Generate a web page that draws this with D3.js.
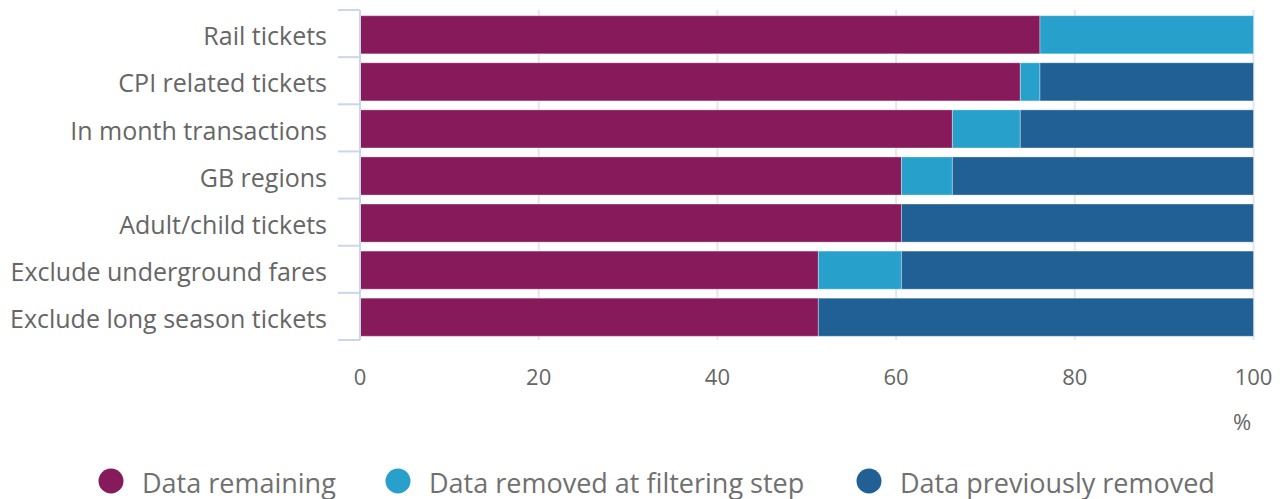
<!DOCTYPE html>
<html>
<head>
<meta charset="utf-8">
<script src="https://cdn.jsdelivr.net/npm/d3@7"></script>
<style>
  html, body { margin: 0; padding: 0; background: #fff; }
  svg { display: block; font-family: "Open Sans", sans-serif; }
</style>
</head>
<body>
<svg id="chart" width="1282" height="499"></svg>
<script>
const categories = [
  "Rail tickets",
  "CPI related tickets",
  "In month transactions",
  "GB regions",
  "Adult/child tickets",
  "Exclude underground fares",
  "Exclude long season tickets"
];
const dataRemaining = [76.1, 73.9, 66.3, 60.6, 60.6, 51.3, 51.3];
const dataRemovedAtStep = [23.9, 2.2, 7.6, 5.7, 0, 9.3, 0];
const dataPreviouslyRemoved = [0, 23.9, 26.1, 33.7, 39.4, 39.4, 48.7];
const seriesNames = ["Data remaining", "Data removed at filtering step", "Data previously removed"];
const seriesColors = ["#871A5B", "#27A0CC", "#206095"];
const xTicks = [0, 20, 40, 60, 80, 100];
const unitLabel = "%";

const svg = d3.select("#chart");
const margin = { left: 360, right: 28.5, top: 10, bottom: 159 };
const W = 1282, H = 499;

const x = d3.scaleLinear().domain([0, 100]).range([margin.left, W - margin.right]);
const y = d3.scaleBand().domain(categories).range([margin.top, H - margin.bottom])
  .paddingInner(0.19).paddingOuter(0.1);

// gridlines
svg.append("g").selectAll("line").data(xTicks).join("line")
  .attr("x1", d => x(d)).attr("x2", d => x(d))
  .attr("y1", margin.top).attr("y2", H - margin.bottom)
  .attr("stroke", "#e6e6e6").attr("stroke-width", 2);

// stacked bars
const rows = categories.map((c, i) => ({
  cat: c, vals: [dataRemaining[i], dataRemovedAtStep[i], dataPreviouslyRemoved[i]]
}));
const segs = [];
rows.forEach(r => {
  let acc = 0;
  r.vals.forEach((v, k) => {
    if (v > 0) segs.push({ cat: r.cat, x0: acc, x1: acc + v, k });
    acc += v;
  });
});
svg.append("g").selectAll("rect").data(segs).join("rect")
  .attr("x", d => x(d.x0))
  .attr("width", d => x(d.x1) - x(d.x0))
  .attr("y", d => y(d.cat) + 1)
  .attr("height", y.bandwidth())
  .attr("fill", d => seriesColors[d.k])
  .attr("stroke", "rgba(255,255,255,0.35)")
  .attr("stroke-width", 1);

// y axis line and category ticks
const yAxisG = svg.append("g");
yAxisG.append("line")
  .attr("x1", margin.left).attr("x2", margin.left)
  .attr("y1", margin.top).attr("y2", H - margin.bottom)
  .attr("stroke", "#ccd6eb").attr("stroke-width", 2);
const bounds = d3.range(categories.length + 1).map(i => margin.top + (H - margin.top - margin.bottom) * i / categories.length);
yAxisG.selectAll("line.tk").data(bounds).join("line").attr("class", "tk")
  .attr("x1", 338).attr("x2", margin.left)
  .attr("y1", d => d).attr("y2", d => d)
  .attr("stroke", "#ccd6eb").attr("stroke-width", 2);

const catCenter = c => margin.top + (H - margin.top - margin.bottom) * (categories.indexOf(c) + 0.5) / categories.length;
yAxisG.selectAll("text").data(categories).join("text")
  .attr("x", 327).attr("y", d => catCenter(d) + 3)
  .attr("dy", "0.35em")
  .attr("text-anchor", "end")
  .attr("fill", "#666")
  .attr("font-size", 25)
  .text(d => d);

// x axis labels
svg.append("g").selectAll("text").data(xTicks).join("text")
  .attr("x", d => x(d)).attr("y", 385)
  .attr("text-anchor", "middle")
  .attr("fill", "#666")
  .attr("font-size", 22)
  .text(d => d);
svg.append("text").attr("x", 1242).attr("y", 430)
  .attr("text-anchor", "middle").attr("fill", "#666").attr("font-size", 22)
  .text(unitLabel);

// legend
const legendX = [111, 398, 869];
const lg = svg.append("g").selectAll("g").data(seriesNames).join("g")
  .attr("transform", (d, i) => `translate(${legendX[i]},481)`);
lg.append("circle").attr("r", 12.5).attr("fill", (d, i) => seriesColors[i]);
lg.append("text").attr("x", 31).attr("y", 12)
  .attr("fill", "#707070").attr("font-size", 27)
  .text(d => d);
</script>
</body>
</html>
